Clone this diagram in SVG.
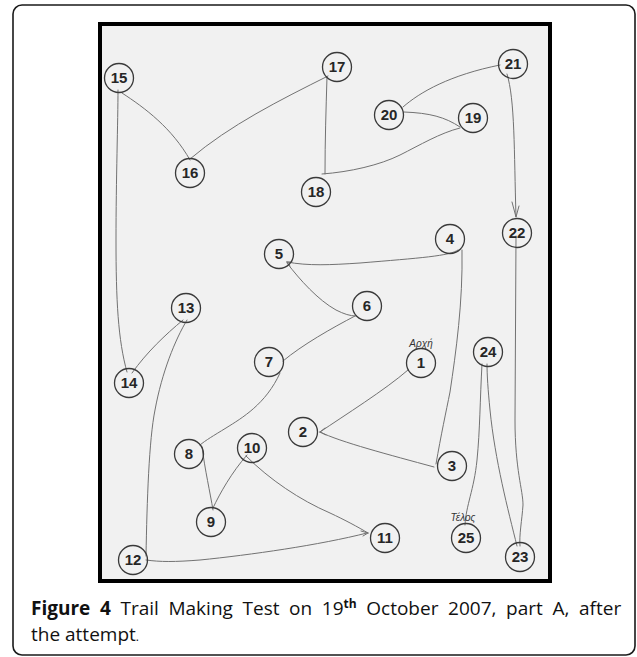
<svg xmlns="http://www.w3.org/2000/svg" width="637" height="657" viewBox="0 0 637 657">
<style>
.node circle{fill:none;stroke:#3a3a3a;stroke-width:1.3}
.node text{font-family:"Liberation Sans",Arial,sans-serif;font-size:15px;font-weight:bold;fill:#262626;text-anchor:middle}
.lbl{font-family:"Liberation Sans",Arial,sans-serif;font-size:10px;font-style:italic;fill:#333;text-anchor:middle}
#connectors path{fill:none;stroke:#727272;stroke-width:1;stroke-linecap:round}
.cap{font-family:"Open Sans","DejaVu Sans",sans-serif;font-size:19px;fill:#111}
</style>
<rect x="0" y="0" width="637" height="657" fill="#ffffff"/>
<rect x="13" y="5" width="622" height="650" rx="9" fill="#ffffff" stroke="#1a1a1a" stroke-width="1.6"/>
<rect x="100" y="24" width="450" height="557" fill="#f1f1f1" stroke="#000" stroke-width="4"/>
<g id="connectors">
<path d="M408 370 C 385 390, 345 415, 320 432"/>
<path d="M320 432 L325 428 M320 432 L326 435"/>
<path d="M320 432 C 340 442, 390 455, 434 467"/>
<path d="M436 464 C 441 435, 446 412, 450 392 C 456 352, 463 302, 462 250"/>
<path d="M458 250 C 450 256, 420 258, 360 263 C 330 265, 308 266, 287 262"/>
<path d="M287 262 L292 262 M287 262 L290 266"/>
<path d="M287 263 C 300 280, 318 300, 336 310 C 344 314, 350 316, 356 316"/>
<path d="M355 316 C 332 328, 302 345, 283 361"/>
<path d="M280 373 C 266 404, 242 418, 226 428 C 213 436, 206 440, 200 445"/>
<path d="M202 447 C 205 470, 210 492, 213 510"/>
<path d="M213 508 C 220 493, 232 472, 247 455"/>
<path d="M246 456 C 270 480, 300 500, 330 513 C 345 520, 358 527, 368 533"/>
<path d="M368 533 L361 531 M368 533 L363 536"/>
<path d="M367 533 C 320 545, 250 555, 200 560 C 175 562, 160 562, 146 560"/>
<path d="M146 556 C 147 500, 149 440, 155 410 C 162 372, 175 340, 187 320"/>
<path d="M183 320 C 165 335, 147 352, 132 373"/>
<path d="M127 372 C 118 340, 116 300, 116 240 C 116 180, 118 120, 118 90"/>
<path d="M122 93 C 145 108, 172 128, 190 160"/>
<path d="M190 159 C 230 125, 280 100, 328 76"/>
<path d="M327 77 C 326 110, 325 140, 325 174"/>
<path d="M322 174 C 350 172, 380 165, 400 155 C 420 145, 440 133, 460 128"/>
<path d="M460 127 C 445 117, 430 113, 404 112"/>
<path d="M403 107 C 420 92, 450 75, 500 65"/>
<path d="M507 74 C 515 100, 514 150, 516 217"/>
<path d="M512 202 L516 217 L519 206"/>
<path d="M516 236 L515 420 C 515 470, 523 490, 523 505 C 522 520, 519 535, 520 546"/>
<path d="M517 546 C 508 510, 495 460, 490 410 C 488 390, 487 375, 487 364"/>
<path d="M482 364 C 480 400, 480 430, 477 460 C 474 490, 466 505, 465 525"/>
</g>
<g id="n1" class="node"><circle cx="421" cy="363" r="14.5"/><text x="421" y="368">1</text></g>
<g id="n2" class="node"><circle cx="303" cy="432" r="14.5"/><text x="303" y="437">2</text></g>
<g id="n3" class="node"><circle cx="452" cy="466" r="14.5"/><text x="452" y="471">3</text></g>
<g id="n4" class="node"><circle cx="450" cy="239" r="14.5"/><text x="450" y="244">4</text></g>
<g id="n5" class="node"><circle cx="279" cy="254" r="14.5"/><text x="279" y="259">5</text></g>
<g id="n6" class="node"><circle cx="367" cy="306" r="14.5"/><text x="367" y="311">6</text></g>
<g id="n7" class="node"><circle cx="269" cy="362" r="14.5"/><text x="269" y="367">7</text></g>
<g id="n8" class="node"><circle cx="189" cy="454" r="14.5"/><text x="189" y="459">8</text></g>
<g id="n9" class="node"><circle cx="211" cy="522" r="14.5"/><text x="211" y="527">9</text></g>
<g id="n10" class="node"><circle cx="252" cy="448" r="14.5"/><text x="252" y="453">10</text></g>
<g id="n11" class="node"><circle cx="385" cy="538" r="14.5"/><text x="385" y="543">11</text></g>
<g id="n12" class="node"><circle cx="133" cy="560" r="14.5"/><text x="133" y="565">12</text></g>
<g id="n13" class="node"><circle cx="186" cy="308" r="14.5"/><text x="186" y="313">13</text></g>
<g id="n14" class="node"><circle cx="129" cy="383" r="14.5"/><text x="129" y="388">14</text></g>
<g id="n15" class="node"><circle cx="119" cy="78" r="14.5"/><text x="119" y="83">15</text></g>
<g id="n16" class="node"><circle cx="190" cy="173" r="14.5"/><text x="190" y="178">16</text></g>
<g id="n17" class="node"><circle cx="337" cy="67" r="14.5"/><text x="337" y="72">17</text></g>
<g id="n18" class="node"><circle cx="316" cy="192" r="14.5"/><text x="316" y="197">18</text></g>
<g id="n19" class="node"><circle cx="473" cy="118" r="14.5"/><text x="473" y="123">19</text></g>
<g id="n20" class="node"><circle cx="389" cy="115" r="14.5"/><text x="389" y="120">20</text></g>
<g id="n21" class="node"><circle cx="513" cy="64" r="14.5"/><text x="513" y="69">21</text></g>
<g id="n22" class="node"><circle cx="517" cy="233" r="14.5"/><text x="517" y="238">22</text></g>
<g id="n23" class="node"><circle cx="520" cy="557" r="14.5"/><text x="520" y="562">23</text></g>
<g id="n24" class="node"><circle cx="488" cy="352" r="14.5"/><text x="488" y="357">24</text></g>
<g id="n25" class="node"><circle cx="466" cy="538" r="14.5"/><text x="466" y="543">25</text></g>
<text class="lbl" x="421" y="347">Αρχή</text>
<text class="lbl" x="463" y="521">Τέλος</text>
<text class="cap" x="31" y="615" word-spacing="4.7"><tspan font-weight="bold">Figure 4</tspan> Trail Making Test on 19<tspan font-size="12" font-weight="bold" dy="-7">th</tspan><tspan dy="7"> October 2007, part A, after</tspan></text>
<text class="cap" x="31" y="641">the attempt<tspan font-size="12">.</tspan></text>
</svg>
